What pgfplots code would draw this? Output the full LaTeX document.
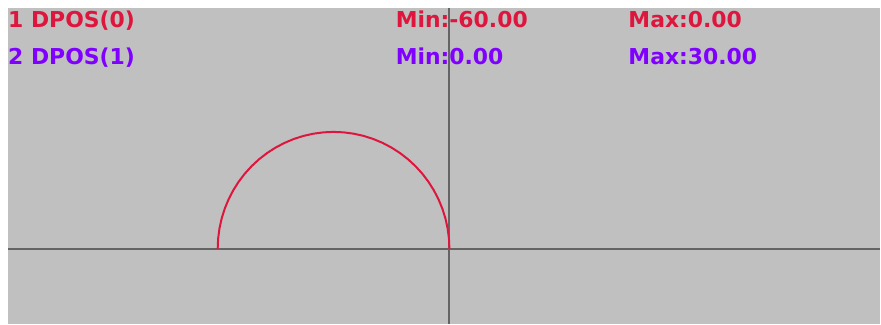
\documentclass[border=0pt]{standalone}
\usepackage{pgfplots}
\pgfplotsset{compat=1.18}
\usepackage{fontspec}
\setmainfont{DejaVu Sans}
\definecolor{bggray}{RGB}{192,192,192}
\definecolor{axgray}{RGB}{100,100,100}
\definecolor{c1}{RGB}{222,22,62}
\definecolor{c2}{RGB}{128,0,255}
\begin{document}
\begin{tikzpicture}
\begin{axis}[
  width=873bp, height=316bp, scale only axis,
  xmin=-114.3, xmax=111.5, ymin=-19.2, ymax=61.8,
  axis lines=middle,
  axis line style={-, draw=axgray, line width=2bp},
  ticks=none,
  axis background/.style={fill=bggray},
  clip=false,
]
\addplot[c1, line width=2bp] coordinates {
(0,0) (-0.114,2.615) (-0.456,5.209) (-1.022,7.765) (-1.809,10.261)
(-2.811,12.679) (-4.019,15) (-5.426,17.207) (-7.019,19.284) (-8.787,21.213)
(-10.716,22.981) (-12.793,24.575) (-15,25.981) (-17.321,27.189) (-19.739,28.191)
(-22.235,28.978) (-24.791,29.544) (-27.385,29.886) (-30,30) (-32.615,29.886)
(-35.209,29.544) (-37.765,28.978) (-40.261,28.191) (-42.679,27.189) (-45,25.981)
(-47.207,24.575) (-49.284,22.981) (-51.213,21.213) (-52.981,19.284) (-54.574,17.207)
(-55.981,15) (-57.189,12.679) (-58.191,10.261) (-58.978,7.765) (-59.544,5.209)
(-59.886,2.615) (-60,0)
};
\end{axis}
\begin{scope}[every node/.style={anchor=base west, inner sep=0pt, font=\fontsize{22}{24}\selectfont\bfseries}]
\node[text=c1] at ([xshift=0bp,yshift=-20bp]current axis.north west) {1 DPOS(0)};
\node[text=c1] at ([xshift=388bp,yshift=-20bp]current axis.north west) {Min:-60.00};
\node[text=c1] at ([xshift=621bp,yshift=-20bp]current axis.north west) {Max:0.00};
\node[text=c2] at ([xshift=0bp,yshift=-57bp]current axis.north west) {2 DPOS(1)};
\node[text=c2] at ([xshift=388bp,yshift=-57bp]current axis.north west) {Min:0.00};
\node[text=c2] at ([xshift=621bp,yshift=-57bp]current axis.north west) {Max:30.00};
\end{scope}
\path[use as bounding box] ([xshift=-8bp]current axis.south west) rectangle ([yshift=8bp]current axis.north east);
\end{tikzpicture}
\end{document}
